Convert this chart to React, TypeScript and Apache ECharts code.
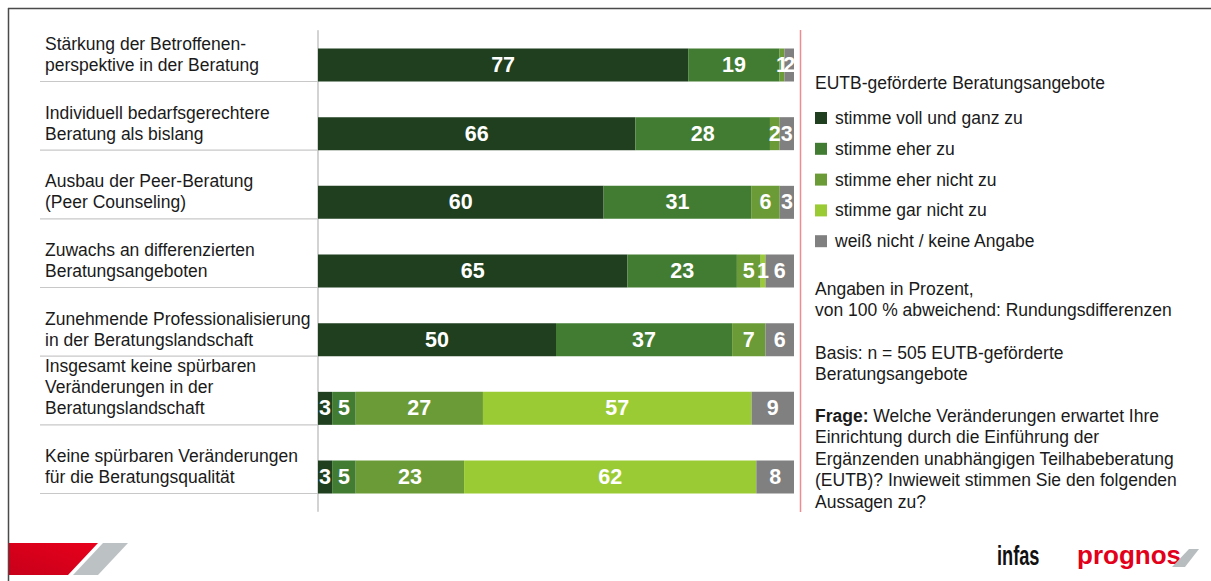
import React, { useEffect, useRef } from "react";
import * as echarts from "echarts";

const categories = [
  "Stärkung der Betroffenen-\nperspektive in der Beratung",
  "Individuell bedarfsgerechtere\nBeratung als bislang",
  "Ausbau der Peer-Beratung\n(Peer Counseling)",
  "Zuwachs an differenzierten\nBeratungsangeboten",
  "Zunehmende Professionalisierung\nin der Beratungslandschaft",
  "Insgesamt keine spürbaren\nVeränderungen in der\nBeratungslandschaft",
  "Keine spürbaren Veränderungen\nfür die Beratungsqualität",
];
const seriesNames = [
  "stimme voll und ganz zu",
  "stimme eher zu",
  "stimme eher nicht zu",
  "stimme gar nicht zu",
  "weiß nicht / keine Angabe",
];
const vollUndGanz = [77, 66, 60, 65, 50, 3, 3];
const eher = [19, 28, 31, 23, 37, 5, 5];
const eherNicht = [1, 2, 6, 5, 7, 27, 23];
const garNicht = [0, 0, 0, 1, 0, 57, 62];
const weissNicht = [2, 3, 3, 6, 6, 9, 8];
const colors = ["#1f3f1f", "#427c33", "#6b9b37", "#9bcb34", "#808080"];

const FONT = "Liberation Sans, Arial, sans-serif";
const FS = 17.5;

export default function App() {
  const ref = useRef<HTMLDivElement>(null);
  useEffect(() => {
    if (!ref.current) return;
    const chart = echarts.init(ref.current, undefined, { renderer: "svg" });
    const all = [vollUndGanz, eher, eherNicht, garNicht, weissNicht];
    const sums = categories.map((_, i) => all.reduce((s, a) => s + a[i], 0));
    const barW = 33;
    chart.setOption({
      animation: false,
      textStyle: { fontFamily: FONT },
      grid: { left: 318, top: 30.67, width: 476, height: 480.67 },
      xAxis: { type: "value", min: 0, max: 100, show: false },
      yAxis: {
        type: "category",
        data: categories,
        inverse: true,
        axisTick: { show: false },
        axisLine: { show: true, lineStyle: { color: "#c4c4c4", width: 1.5 } },
        axisLabel: {
          interval: 0,
          hideOverlap: false,
          align: "left",
          margin: 273,
          fontSize: FS,
          lineHeight: 21,
          color: "#1a1a1a",
          fontFamily: FONT,
          formatter: (v: string) => {
            const k = v.split("\n").length;
            return v + "\n ".repeat(k - 1);
          },
        },
      },
      legend: {
        orient: "vertical",
        left: 815,
        top: 109,
        padding: 0,
        itemWidth: 12,
        itemHeight: 12,
        itemGap: 12.8,
        icon: "rect",
        selectedMode: false,
        textStyle: { fontSize: FS, lineHeight: 18, color: "#1a1a1a", fontFamily: FONT, padding: [0, 0, 0, 3] },
        data: seriesNames,
      },
      series: seriesNames.map((name, si) => ({
        name,
        type: "bar",
        stack: "total",
        barWidth: barW,
        itemStyle: { color: colors[si] },
        label: {
          show: true,
          position: "inside",
          color: "#ffffff",
          fontWeight: "bold",
          fontSize: 21.5,
          fontFamily: FONT,
          formatter: (p: any) => (p.data.raw ? String(p.data.raw) : ""),
        },
        data: all[si].map((v, i) => ({ value: (v / sums[i]) * 100, raw: v })),
      })),
    });

    const seps = categories.map((_, i) => {
      const y = chart.convertToPixel({ yAxisIndex: 0 }, i) as number;
      return {
        type: "line",
        shape: { x1: 40, y1: y + barW / 2, x2: 318, y2: y + barW / 2 },
        style: { stroke: "#c8c8c8", lineWidth: 1.2 },
        silent: true,
      };
    });

    const txt = (x: number, y: number, text: string, extra: any = {}) => ({
      type: "text",
      x,
      y,
      style: {
        text,
        fontSize: FS,
        lineHeight: 21.5,
        fill: "#1a1a1a",
        fontFamily: FONT,
        verticalAlign: "top",
        ...extra,
      },
      silent: true,
    });

    chart.setOption({
      graphic: [
        ...seps,
        {
          type: "line",
          shape: { x1: 8, y1: 8.5, x2: 1211, y2: 8.5 },
          style: { stroke: "#4a4a4a", lineWidth: 1.5 },
        },
        {
          type: "line",
          shape: { x1: 8.5, y1: 8, x2: 8.5, y2: 581 },
          style: { stroke: "#4a4a4a", lineWidth: 1.5 },
        },
        {
          type: "line",
          shape: { x1: 800.5, y1: 30, x2: 800.5, y2: 512 },
          style: { stroke: "#f08a90", lineWidth: 1.5 },
        },
        txt(815, 72, "EUTB-geförderte Beratungsangebote"),
        txt(815, 278, "Angaben in Prozent,\nvon 100 % abweichend: Rundungsdifferenzen"),
        txt(815, 342, "Basis: n = 505 EUTB-geförderte\nBeratungsangebote"),
        {
          type: "text",
          x: 815,
          y: 405,
          silent: true,
          style: {
            text:
              "{b|Frage:}{n| Welche Veränderungen erwartet Ihre}\n{n|Einrichtung durch die Einführung der}\n{n|Ergänzenden unabhängigen Teilhabeberatung}\n{n|(EUTB)? Inwieweit stimmen Sie den folgenden}\n{n|Aussagen zu?}",
            verticalAlign: "top",
            fontFamily: FONT,
            fontSize: FS,
            lineHeight: 21.5,
            fill: "#1a1a1a",
            rich: {
              b: { fontSize: FS, lineHeight: 21.5, fontWeight: "bold", fontFamily: FONT, fill: "#1a1a1a" },
              n: { fontSize: FS, lineHeight: 21.5, fontFamily: FONT, fill: "#1a1a1a" },
            },
          },
        },
        {
          type: "polygon",
          shape: { points: [[9, 543], [98, 543], [68, 575], [9, 575]] },
          style: {
            fill: new echarts.graphic.LinearGradient(0, 1, 1, 0, [
              { offset: 0, color: "#c8001a" },
              { offset: 1, color: "#e8001c" },
            ]),
          },
        },
        {
          type: "polygon",
          shape: { points: [[103, 543], [128, 543], [98, 575], [73, 575]] },
          style: { fill: "#bcc1c4" },
        },
        {
          type: "text",
          x: 997,
          y: 556,
          scaleX: 0.65,
          style: {
            text: "infas",
            fontSize: 28,
            fontWeight: "bold",
            fontFamily: "Liberation Sans Narrow, Liberation Sans, Arial",
            fill: "#111111",
            verticalAlign: "middle",
          },
        },
        {
          type: "text",
          x: 1077,
          y: 555,
          style: {
            text: "prognos",
            fontSize: 26,
            fontWeight: "bold",
            fontFamily: FONT,
            fill: "#e2001a",
            verticalAlign: "middle",
          },
        },
        {
          type: "polygon",
          shape: { points: [[1189, 549], [1199, 549], [1185, 567], [1172, 567]] },
          style: { fill: "#b8bdc0" },
        },
      ],
    });
    return () => chart.dispose();
  }, []);
  return (
    <div
      ref={ref}
      style={{ position: "fixed", left: 0, top: 0, width: 1211, height: 581, background: "#ffffff" }}
    />
  );
}
